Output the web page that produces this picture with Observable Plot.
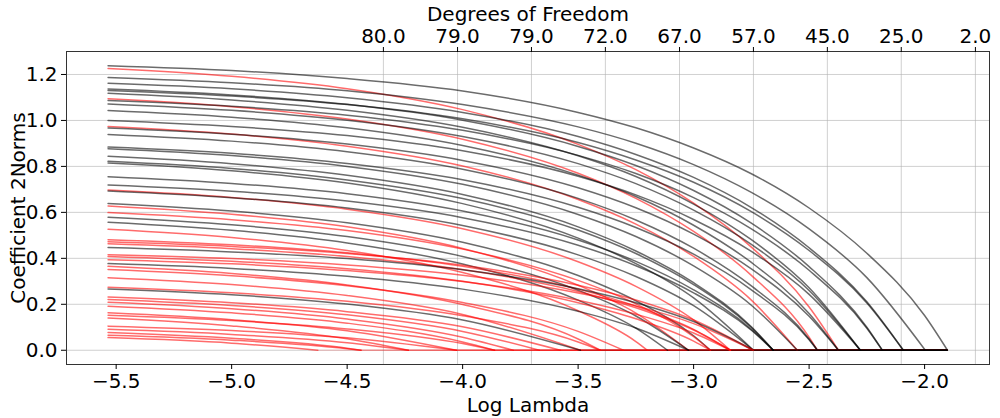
<!DOCTYPE html>
<html>
<head>
<meta charset="utf-8">
<script src="https://cdn.jsdelivr.net/npm/d3@7"></script>
<script src="https://cdn.jsdelivr.net/npm/@observablehq/plot@0.6"></script>
<style>
  body { margin: 0; background: #fff; }
</style>
</head>
<body>
<div id="chart"></div>
<script>
const xGrid = [-5.535, -5.0, -4.5, -4.0, -3.5, -3.25, -3.0, -2.75, -2.5, -2.25, -2.0];
const lastX = -1.901;

// colour of each coefficient group
const groupColor = [
  "black", "red", "black", "black", "black", "black", "black", "red", "black", "black",
  "black", "black", "red", "black", "black", "black", "black", "black", "black", "black",
  "black", "black", "red", "black", "black", "red", "red", "black", "black", "red",
  "red", "red", "red", "black", "red", "red", "red", "black", "red", "red",
  "red", "red", "black", "red", "red", "red", "red", "red", "red", "red",
  "red", "red", "red", "red", "red"
];

// log lambda where each group norm reaches zero
const zeroAt = [
  -1.901, -2.373, -1.997, -2.092, -2.183, -2.092, -2.278, -2.464, -2.183, -2.278,
  -2.373, -2.278, -2.551, -2.373, -2.464, -2.464, -2.551, -2.655, -2.655, -2.741,
  -2.655, -2.655, -2.841, -2.741, -2.927, -3.022, -2.927, -3.022, -3.113, -3.200,
  -2.841, -2.741, -2.841, -2.741, -2.741, -2.927, -2.841, -3.022, -3.404, -3.304,
  -3.490, -3.404, -3.490, -3.577, -3.668, -3.781, -3.862, -4.027, -3.862, -4.235,
  -4.027, -4.235, -4.440, -4.440, -4.627
];

// coefficient 2-norms at xGrid, per group
const norms = [
  [1.238, 1.217, 1.182, 1.128, 1.035, 0.968, 0.880, 0.768, 0.619, 0.422, 0.151],
  [1.226, 1.192, 1.138, 1.047, 0.896, 0.786, 0.640, 0.449, 0.188],
  [1.187, 1.164, 1.129, 1.069, 0.972, 0.901, 0.808, 0.687, 0.528, 0.316],
  [1.162, 1.138, 1.099, 1.035, 0.930, 0.852, 0.752, 0.621, 0.446, 0.211],
  [1.137, 1.111, 1.070, 1.001, 0.887, 0.804, 0.695, 0.553, 0.364, 0.100],
  [1.130, 1.106, 1.069, 1.007, 0.904, 0.828, 0.731, 0.603, 0.434, 0.206],
  [1.118, 1.089, 1.044, 0.970, 0.846, 0.756, 0.636, 0.481, 0.272],
  [1.094, 1.060, 1.006, 0.918, 0.770, 0.661, 0.517, 0.326, 0.057],
  [1.087, 1.062, 1.023, 0.957, 0.848, 0.769, 0.664, 0.528, 0.348, 0.096],
  [1.072, 1.044, 1.001, 0.930, 0.812, 0.725, 0.610, 0.461, 0.260],
  [1.043, 1.014, 0.968, 0.891, 0.762, 0.669, 0.544, 0.382, 0.160],
  [1.000, 0.974, 0.934, 0.868, 0.757, 0.676, 0.569, 0.430, 0.243],
  [0.974, 0.941, 0.888, 0.802, 0.656, 0.549, 0.408, 0.218],
  [0.967, 0.940, 0.897, 0.826, 0.707, 0.620, 0.505, 0.354, 0.148],
  [0.939, 0.910, 0.864, 0.788, 0.661, 0.567, 0.444, 0.280, 0.049],
  [0.884, 0.857, 0.813, 0.742, 0.622, 0.534, 0.418, 0.263, 0.046],
  [0.877, 0.847, 0.800, 0.722, 0.591, 0.495, 0.367, 0.196],
  [0.844, 0.812, 0.761, 0.678, 0.537, 0.432, 0.294, 0.102],
  [0.822, 0.791, 0.741, 0.660, 0.523, 0.421, 0.286, 0.099],
  [0.815, 0.781, 0.728, 0.638, 0.488, 0.377, 0.228],
  [0.755, 0.726, 0.681, 0.606, 0.480, 0.387, 0.263, 0.091],
  [0.719, 0.692, 0.649, 0.577, 0.457, 0.368, 0.250, 0.087],
  [0.697, 0.665, 0.614, 0.529, 0.385, 0.278, 0.132],
  [0.693, 0.664, 0.619, 0.543, 0.415, 0.321, 0.194],
  [0.639, 0.606, 0.555, 0.470, 0.325, 0.215, 0.063],
  [0.628, 0.592, 0.537, 0.443, 0.283, 0.162],
  [0.599, 0.568, 0.521, 0.440, 0.304, 0.202, 0.059],
  [0.579, 0.546, 0.495, 0.408, 0.261, 0.149],
  [0.557, 0.522, 0.467, 0.375, 0.218, 0.096],
  [0.527, 0.491, 0.434, 0.338, 0.172, 0.038],
  [0.481, 0.459, 0.424, 0.365, 0.266, 0.192, 0.091],
  [0.472, 0.452, 0.421, 0.370, 0.283, 0.219, 0.132],
  [0.463, 0.442, 0.408, 0.351, 0.256, 0.185, 0.088],
  [0.447, 0.428, 0.399, 0.350, 0.268, 0.207, 0.125],
  [0.416, 0.399, 0.371, 0.326, 0.249, 0.193, 0.116],
  [0.408, 0.387, 0.355, 0.300, 0.207, 0.137, 0.040],
  [0.394, 0.376, 0.347, 0.299, 0.218, 0.157, 0.075],
  [0.377, 0.356, 0.322, 0.266, 0.170, 0.097],
  [0.365, 0.334, 0.284, 0.199, 0.049],
  [0.351, 0.324, 0.281, 0.208, 0.082],
  [0.316, 0.286, 0.238, 0.156],
  [0.274, 0.250, 0.213, 0.150, 0.036],
  [0.267, 0.242, 0.201, 0.132],
  [0.232, 0.207, 0.168, 0.102],
  [0.221, 0.195, 0.154, 0.082],
  [0.209, 0.181, 0.136, 0.057],
  [0.192, 0.163, 0.118, 0.036],
  [0.163, 0.133, 0.085],
  [0.152, 0.129, 0.093, 0.029],
  [0.140, 0.106, 0.050],
  [0.105, 0.086, 0.054],
  [0.091, 0.069, 0.033],
  [0.077, 0.052, 0.009],
  [0.065, 0.044, 0.007],
  [0.055, 0.031]
];

// axes
const yTicks = [0, 0.2, 0.4, 0.6, 0.8, 1.0, 1.2];
const xTicks = [-5.5, -5.0, -4.5, -4.0, -3.5, -3.0, -2.5, -2.0];
const dfTicks = [-4.343, -4.022, -3.702, -3.382, -3.061, -2.741, -2.421, -2.101, -1.780];
const dfLabels = ["80.0", "79.0", "79.0", "72.0", "67.0", "57.0", "45.0", "25.0", "2.0"];

// one row per point, the path ends where the norm hits zero
const rows = [];
norms.forEach((vals, g) => {
  vals.forEach((v, j) => rows.push({ g, x: xGrid[j], y: v, c: groupColor[g] }));
  rows.push({ g, x: zeroAt[g], y: 0, c: groupColor[g] });
});

// flat zero tails: red ones first so the black ones sit on top
const groups = d3.range(norms.length)
  .sort((a, b) => d3.ascending(groupColor[a] === "black", groupColor[b] === "black"));

const fmt = d => (d < 0 ? "\u2212" : "") + Math.abs(d).toFixed(1);
const grey = { stroke: "#b0b0b0", strokeOpacity: 0.6, strokeWidth: 1 };

const chart = Plot.plot({
  width: 1000,
  height: 418,
  marginLeft: 66,
  marginRight: 11,
  marginTop: 51,
  marginBottom: 54,
  style: { fontFamily: "DejaVu Sans", fontSize: "20px", color: "#000", background: "#fff" },
  x: { domain: [-5.715, -1.719] },
  y: { domain: [-0.062, 1.300] },
  marks: [
    Plot.gridY(yTicks, grey),
    Plot.gridX(dfTicks, grey),
    Plot.link(groups, {
      x1: g => zeroAt[g], x2: () => lastX, y1: () => 0, y2: () => 0,
      stroke: g => groupColor[g], strokeOpacity: 0.14, strokeWidth: 1.5
    }),
    Plot.line(rows, {
      x: "x", y: "y", z: "g", stroke: "c",
      strokeOpacity: 0.58, strokeWidth: 1.5, curve: "monotone-x"
    }),
    Plot.frame({ stroke: "#333", strokeWidth: 1 }),
    Plot.axisY({
      ticks: yTicks, tickFormat: d => d.toFixed(1), tickSize: 5,
      label: "Coefficient 2Norms", labelAnchor: "center", labelArrow: "none",
      labelOffset: 56, fontSize: 20
    }),
    Plot.axisX({
      anchor: "bottom", ticks: xTicks, tickFormat: fmt, tickSize: 5,
      label: "Log Lambda", labelAnchor: "center", labelArrow: "none",
      labelOffset: 47, fontSize: 20
    }),
    Plot.axisX({
      anchor: "top", ticks: dfTicks, tickFormat: (d, i) => dfLabels[i], tickSize: 5,
      label: "Degrees of Freedom", labelAnchor: "center", labelArrow: "none",
      labelOffset: 45, fontSize: 20
    })
  ]
});

document.getElementById("chart").append(chart);
</script>
</body>
</html>
